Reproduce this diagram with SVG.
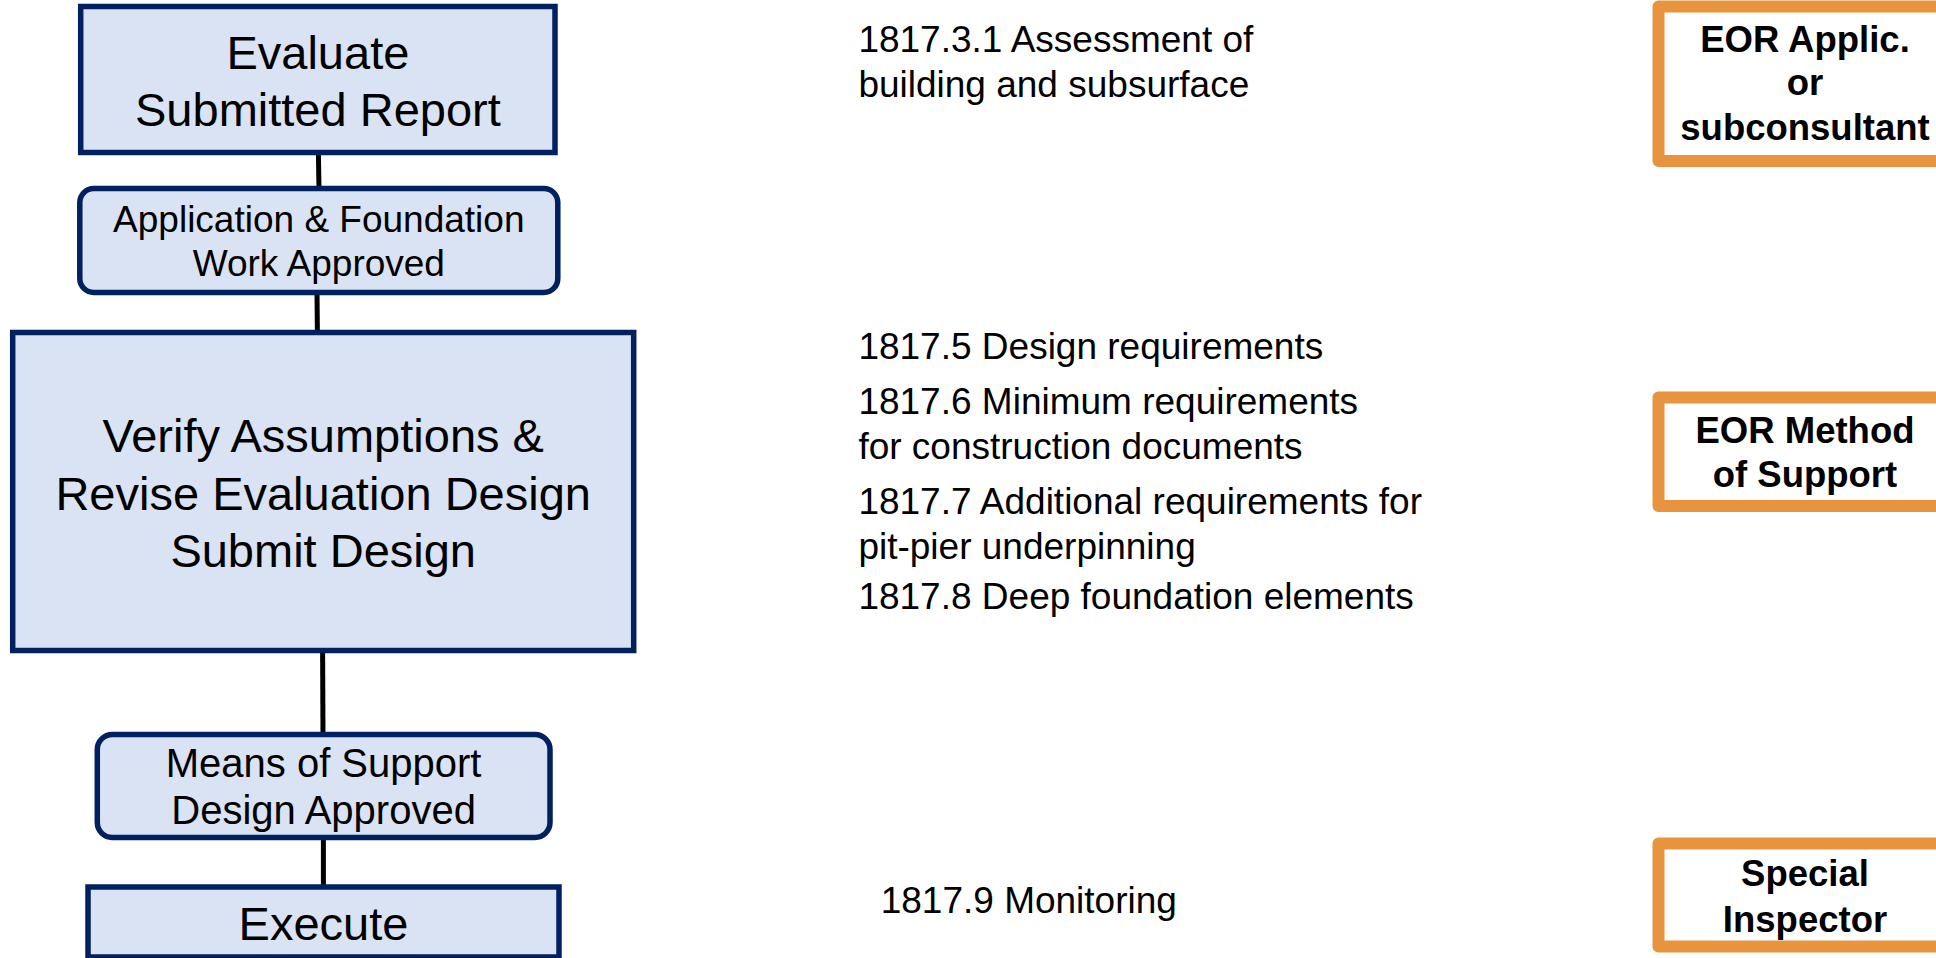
<svg xmlns="http://www.w3.org/2000/svg" width="1936" height="958" viewBox="0 0 1936 958">
<style>
.box{fill:#DAE3F3;stroke:#002060;stroke-width:5.5}
.role{fill:#FFFFFF;stroke:#E8943F;stroke-width:12;stroke-linejoin:round}
.t{font-family:"Liberation Sans",Arial,sans-serif;fill:#000}
.big{font-size:47px;text-anchor:middle}
.mid{font-size:37px;text-anchor:middle}
.ref{font-size:37px}
.bold{font-size:36.5px;font-weight:bold;text-anchor:middle}
.conn{stroke:#000;stroke-width:5;fill:none}
</style>
<rect width="1936" height="958" fill="#FFFFFF"/>
<g id="connectors">
<line class="conn" x1="318.4" y1="153" x2="319" y2="189"/>
<line class="conn" x1="317" y1="292" x2="317.4" y2="334"/>
<line class="conn" x1="322.6" y1="650" x2="323" y2="735"/>
<line class="conn" x1="323.4" y1="837" x2="323.4" y2="888"/>
</g>
<g id="evaluate">
<rect class="box" x="80.7" y="6.5" width="474.3" height="146"/>
<text class="t big" x="317.9" y="69">Evaluate</text>
<text class="t big" x="317.9" y="126">Submitted Report</text>
</g>
<g id="approved1">
<rect class="box" x="79.8" y="188.5" width="478" height="104" rx="14"/>
<text class="t mid" x="318.8" y="232">Application &amp; Foundation</text>
<text class="t mid" x="318.8" y="276">Work Approved</text>
</g>
<g id="verify">
<rect class="box" x="12.7" y="332.5" width="621" height="318"/>
<text class="t big" x="323.2" y="451.7">Verify Assumptions &amp;</text>
<text class="t big" x="323.2" y="510">Revise Evaluation Design</text>
<text class="t big" x="323.2" y="566.7">Submit Design</text>
</g>
<g id="approved2">
<rect class="box" x="97.3" y="734.5" width="452.7" height="103" rx="15"/>
<text class="t mid" style="font-size:40px" x="323.6" y="776.7">Means of Support</text>
<text class="t mid" style="font-size:40px" x="323.6" y="824">Design Approved</text>
</g>
<g id="execute">
<rect class="box" x="88" y="887" width="471" height="70"/>
<text class="t big" x="323.5" y="940">Execute</text>
</g>
<g id="refs">
<text class="t ref" x="858.4" y="51.7">1817.3.1 Assessment of</text>
<text class="t ref" x="858.4" y="96.7">building and subsurface</text>
<text class="t ref" x="858.4" y="359">1817.5 Design requirements</text>
<text class="t ref" x="858.4" y="414">1817.6 Minimum requirements</text>
<text class="t ref" x="858.4" y="459">for construction documents</text>
<text class="t ref" x="858.4" y="514">1817.7 Additional requirements for</text>
<text class="t ref" x="858.4" y="559">pit-pier underpinning</text>
<text class="t ref" x="858.4" y="609">1817.8 Deep foundation elements</text>
<text class="t ref" x="880.7" y="913.3">1817.9 Monitoring</text>
</g>
<g id="role1">
<rect class="role" x="1658.5" y="6.5" width="293" height="154.5"/>
<text class="t bold" x="1805" y="52">EOR Applic.</text>
<text class="t bold" x="1805" y="95">or</text>
<text class="t bold" x="1805" y="140">subconsultant</text>
</g>
<g id="role2">
<rect class="role" x="1658.5" y="397.5" width="293" height="108.5"/>
<text class="t bold" x="1805" y="442.7">EOR Method</text>
<text class="t bold" x="1805" y="487.3">of Support</text>
</g>
<g id="role3">
<rect class="role" x="1658.5" y="843.5" width="293" height="103"/>
<text class="t bold" x="1805" y="885.7">Special</text>
<text class="t bold" x="1805" y="931.7">Inspector</text>
</g>
</svg>
